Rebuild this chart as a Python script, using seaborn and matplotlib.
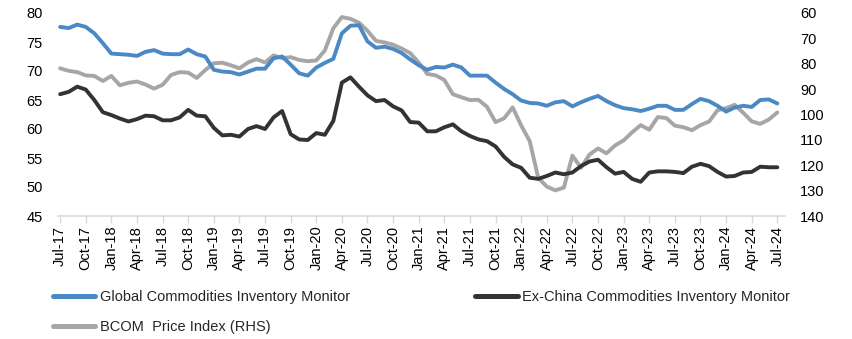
import matplotlib
matplotlib.use("Agg")
import matplotlib.pyplot as plt
import seaborn as sns
import pandas as pd
import numpy as np

global_inv = [77.6, 77.4, 78.0, 77.6, 76.5, 74.8, 73.0, 72.9, 72.8, 72.6, 73.3, 73.6, 73.0, 72.9, 72.9,
              73.7, 72.9, 72.5, 70.2, 69.9, 69.8, 69.4, 69.9, 70.4, 70.4, 72.2, 72.5, 71.1, 69.6, 69.2,
              70.6, 71.4, 72.1, 76.5, 77.8, 77.9, 75.1, 74.0, 74.2, 73.8, 73.1, 72.0, 71.0, 70.2, 70.7,
              70.6, 71.1, 70.6, 69.2, 69.2, 69.2, 68.0, 66.9, 66.0, 64.9, 64.5, 64.4, 64.0, 64.6, 64.8,
              63.9, 64.6, 65.2, 65.7, 64.8, 64.1, 63.6, 63.4, 63.1, 63.5, 64.0, 64.0, 63.3, 63.3, 64.3,
              65.2, 64.8, 64.0, 63.0, 63.7, 64.0, 63.8, 65.0, 65.1, 64.4]
exchina_inv = [66.0, 66.4, 67.3, 66.8, 65.0, 62.9, 62.4, 61.8, 61.3, 61.7, 62.3, 62.2, 61.5, 61.5, 62.0,
               63.3, 62.3, 62.2, 60.2, 58.9, 59.0, 58.7, 60.0, 60.5, 60.0, 62.0, 63.1, 59.1, 58.2, 58.1,
               59.3, 59.0, 61.4, 68.0, 68.9, 67.3, 65.8, 64.8, 65.0, 63.9, 63.2, 61.2, 61.1, 59.6, 59.6,
               60.3, 60.8, 59.6, 58.8, 58.2, 57.9, 57.0, 55.2, 53.9, 53.3, 51.6, 51.4, 51.9, 52.5, 52.2,
               52.5, 53.6, 54.4, 54.7, 53.4, 52.3, 52.6, 51.4, 50.9, 52.5, 52.7, 52.7, 52.6, 52.4, 53.5,
               54.0, 53.6, 52.6, 51.8, 51.9, 52.5, 52.6, 53.5, 53.4, 53.4]
bcom = [81.8, 82.8, 83.3, 84.6, 84.8, 86.8, 84.8, 88.5, 87.5, 87.0, 88.2, 89.8, 88.3, 84.4, 83.3,
        83.5, 85.6, 82.5, 79.8, 79.6, 80.6, 81.8, 79.5, 78.2, 79.5, 76.7, 77.8, 77.4, 78.5, 79.0,
        78.7, 74.8, 66.0, 61.6, 62.3, 63.8, 67.0, 71.0, 71.6, 72.5, 74.0, 75.8, 79.5, 84.0, 84.6,
        86.4, 92.0, 93.2, 94.3, 94.2, 97.0, 103.0, 101.5, 97.2, 104.3, 110.5, 125.0, 128.4, 129.9, 128.8,
        116.2, 121.0, 115.8, 113.4, 115.3, 112.2, 110.2, 107.0, 104.2, 106.0, 101.0, 101.4, 104.4, 105.0, 106.2,
        104.2, 102.8, 98.3, 97.5, 96.2, 99.3, 102.7, 103.7, 102.0, 99.2]
tick_labels = ["Jul-17", "Oct-17", "Jan-18", "Apr-18", "Jul-18", "Oct-18", "Jan-19", "Apr-19", "Jul-19",
               "Oct-19", "Jan-20", "Apr-20", "Jul-20", "Oct-20", "Jan-21", "Apr-21", "Jul-21", "Oct-21",
               "Jan-22", "Apr-22", "Jul-22", "Oct-22", "Jan-23", "Apr-23", "Jul-23", "Oct-23", "Jan-24",
               "Apr-24", "Jul-24"]
names = ["Global Commodities Inventory Monitor", "Ex-China Commodities Inventory Monitor",
         "BCOM  Price Index (RHS)"]
colors = ["#4A89C3", "#333333", "#A6A6A6"]

sns.set_theme(style="white")
plt.rcParams["font.family"] = ["Liberation Sans", "DejaVu Sans"]

n = len(global_inv)
df = pd.DataFrame({"m": np.arange(n), "g": global_inv, "e": exchina_inv, "b": bcom})

fig = plt.figure(figsize=(8.52, 3.39), dpi=100)
ax = fig.add_axes([58 / 852, 1 - 216 / 339, (785 - 58) / 852, (216 - 13) / 339])
ax2 = ax.twinx()

lw = 2.8
sns.lineplot(data=df, x="m", y="b", ax=ax2, color=colors[2], lw=lw, label=names[2], legend=False)
sns.lineplot(data=df, x="m", y="e", ax=ax, color=colors[1], lw=lw, label=names[1], legend=False)
sns.lineplot(data=df, x="m", y="g", ax=ax, color=colors[0], lw=lw, label=names[0], legend=False)

ax.set_zorder(ax2.get_zorder() + 1)
ax.patch.set_visible(False)

ax.set_xlim(-0.25, 84.9)
ax.set_ylim(45, 80)
ax.set_yticks(range(45, 81, 5))
ax2.set_ylim(140, 60)
ax2.set_yticks(range(60, 141, 10))

ax.set_xticks(np.arange(0, n, 3))
ax.set_xticklabels(tick_labels, rotation=90)
ax.set_xlabel("")
ax.set_ylabel("")
ax2.set_ylabel("")

for a in (ax, ax2):
    for s in a.spines.values():
        s.set_visible(False)
ax.spines["bottom"].set_visible(True)
ax.spines["bottom"].set_color("#D9D9D9")
ax.spines["bottom"].set_linewidth(1.2)

ax.tick_params(axis="x", bottom=True, length=5, width=1, color="#D9D9D9", pad=2,
               labelsize=10.5, labelcolor="black")
ax.tick_params(axis="y", left=False, length=0, pad=11, labelsize=10.5, labelcolor="black")
ax2.tick_params(axis="y", right=False, length=0, pad=11, labelsize=10.5, labelcolor="black")
ax.grid(False)
ax2.grid(False)

h1, l1 = ax.get_legend_handles_labels()
h2, l2 = ax2.get_legend_handles_labels()
hd = dict(zip(l1 + l2, h1 + h2))
order = [names[0], names[2], names[1]]
leg = fig.legend([hd[k] for k in order], order, loc="upper left", ncol=2,
                 bbox_to_anchor=(53 / 852, 1 - 290 / 339), frameon=False, fontsize=10.5,
                 handlelength=2.9, handletextpad=0.3, columnspacing=8.6, labelspacing=1.1,
                 borderaxespad=0, borderpad=0)
for line in leg.get_lines():
    line.set_linewidth(3.6)

fig.savefig("out.png", dpi=100)
